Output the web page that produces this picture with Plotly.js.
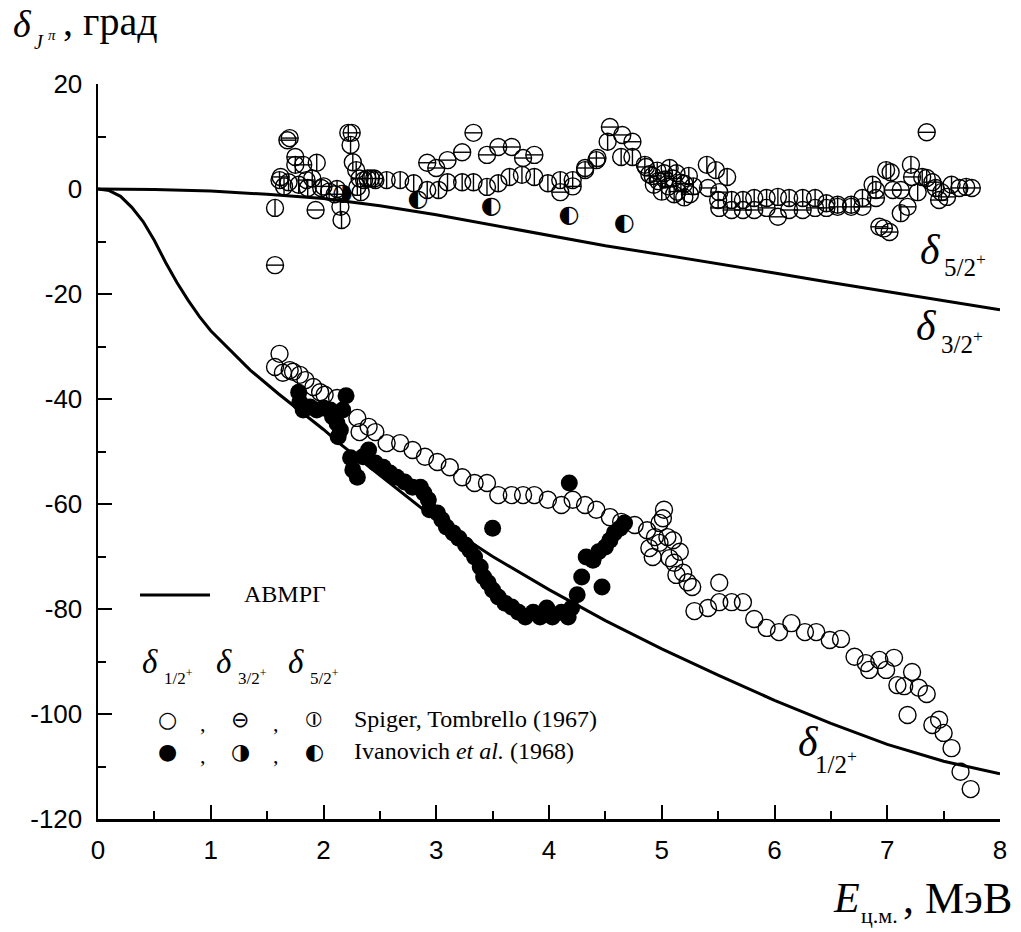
<!DOCTYPE html>
<html>
<head>
<meta charset="utf-8">
<script src="https://cdn.plot.ly/plotly-3.0.1.min.js"></script>
<style>
  html, body { margin: 0; padding: 0; background: #fff; }
  #chart { width: 1021px; height: 932px; }
</style>
</head>
<body>
<div id="chart"></div>
<script>
// Phase shifts of elastic scattering, degrees, versus c.m. energy, MeV.

// Axis ticks
const xTickVals = [0, 1, 2, 3, 4, 5, 6, 7, 8];
const xTickText = ['0', '1', '2', '3', '4', '5', '6', '7', '8'];
const yTickVals = [20, 0, -20, -40, -60, -80, -100, -120];
const yTickText = ['20', '0', '-20', '-40', '-60', '-80', '-100', '-120'];

// Model curves (АВМРГ)
const curveE = [0, 0.1, 0.2, 0.3, 0.4, 0.5, 0.6, 0.7, 0.8, 0.9, 1.0, 1.2, 1.35, 1.6, 1.8, 2.0, 2.15, 2.5, 3.0, 3.5, 4.0, 4.5, 5.0, 5.5, 6.0, 6.5, 7.0, 7.5, 8.0];
const curve12 = [0, -0.3, -1.4, -3.5, -6.2, -9.8, -14.0, -17.8, -21.2, -24.3, -27.0, -31.4, -34.5, -39.0, -42.4, -45.8, -48.6, -54.5, -63.0, -70.0, -76.3, -82.2, -87.6, -92.6, -97.4, -101.8, -105.8, -109.0, -111.4];
const curve32E = [0, 0.5, 1.0, 1.5, 2.0, 2.5, 3.0, 3.5, 4.0, 4.5, 5.0, 5.5, 6.0, 6.5, 7.0, 7.5, 8.0];
const curve32 = [0, -0.1, -0.4, -1.0, -1.8, -3.2, -4.9, -6.9, -8.9, -10.8, -12.5, -14.2, -16.0, -17.8, -19.5, -21.2, -23.0];

// Spiger, Tombrello (1967): delta 1/2+
const st12E = [1.57, 1.61, 1.64, 1.70, 1.73, 1.79, 1.84, 1.91, 1.97, 2.01, 2.12, 2.30, 2.32, 2.40, 2.46, 2.56, 2.68, 2.79, 2.90, 3.01, 3.12, 3.23, 3.34, 3.45, 3.55, 3.67, 3.77, 3.87, 3.99, 4.11, 4.21, 4.32, 4.42, 4.54, 4.64, 4.76, 4.87, 4.89, 4.92, 4.94, 4.98, 4.98, 5.01, 5.02, 5.05, 5.07, 5.10, 5.11, 5.13, 5.16, 5.19, 5.23, 5.27, 5.29, 5.41, 5.51, 5.51, 5.62, 5.72, 5.82, 5.93, 6.04, 6.15, 6.27, 6.37, 6.49, 6.59, 6.71, 6.81, 6.84, 6.93, 6.99, 7.06, 7.09, 7.15, 7.22, 7.28, 7.35, 7.18, 7.40, 7.46, 7.50, 7.57, 7.65, 7.74];
const st12 = [-33.9, -31.4, -35.0, -34.5, -34.8, -35.4, -36.4, -37.7, -38.7, -39.2, -39.8, -43.6, -46.3, -45.3, -46.3, -48.4, -48.4, -49.7, -51.0, -52.0, -53.0, -54.9, -56.0, -56.0, -58.3, -58.3, -58.3, -58.3, -59.2, -60.2, -59.2, -60.2, -61.1, -62.5, -63.4, -64.0, -65.0, -68.4, -70.1, -66.3, -67.4, -63.6, -62.7, -61.1, -66.3, -70.3, -66.9, -71.2, -73.5, -69.1, -73.1, -74.9, -75.8, -80.4, -79.8, -75.0, -78.7, -78.7, -78.7, -81.9, -83.6, -84.4, -82.7, -84.4, -84.4, -85.9, -85.7, -89.1, -90.3, -91.6, -89.7, -91.6, -89.3, -94.5, -94.7, -92.0, -95.0, -96.2, -100.2, -102.1, -101.1, -103.6, -106.5, -111.0, -114.3];

// Spiger, Tombrello (1967): delta 3/2+
const st32E = [1.57, 1.68, 1.70, 1.75, 1.82, 1.62, 1.85, 1.93, 2.00, 2.10, 2.25, 2.32, 2.45, 2.92, 3.00, 3.10, 3.23, 3.33, 3.45, 3.55, 3.67, 3.77, 3.87, 4.10, 4.21, 4.32, 4.43, 4.54, 4.65, 4.74, 4.86, 4.92, 4.97, 5.02, 5.06, 5.10, 5.14, 5.20, 5.25, 5.41, 5.51, 5.51, 5.62, 5.72, 5.82, 5.93, 6.03, 6.13, 6.25, 6.36, 6.46, 6.56, 6.68, 6.78, 6.90, 6.93, 6.97, 7.02, 7.05, 7.12, 7.18, 7.22, 7.35, 7.40, 7.46, 7.53, 7.64, 7.75];
const st32 = [-14.5, 9.3, 9.7, 6.1, 4.6, 2.3, 1.7, -4.0, 0.5, -1.0, 10.7, 2.0, 2.0, 5.0, 4.0, 5.5, 7.0, 10.7, 6.5, 8.0, 8.0, 5.9, 6.5, -0.6, 0.5, 4.0, 5.9, 11.8, 10.3, 9.0, 4.2, 2.5, 1.5, 3.0, 0.5, 2.0, -0.5, 1.0, -1.0, 0.2, -0.6, -3.6, -4.0, -4.0, -4.0, -3.6, -5.3, -4.0, -4.0, -3.6, -3.6, -3.4, -3.4, -3.4, -1.7, -7.2, -7.5, -8.2, -0.2, -0.2, -3.4, 2.3, 10.8, 1.3, -2.1, -1.5, 0.2, 0.2];

// Spiger, Tombrello (1967): delta 5/2+
const st52E = [1.57, 1.61, 1.65, 1.69, 1.75, 1.78, 1.86, 1.90, 1.94, 1.98, 2.05, 2.12, 2.15, 2.16, 2.22, 2.24, 2.26, 2.29, 2.30, 2.33, 2.36, 2.39, 2.42, 2.46, 2.56, 2.68, 2.80, 2.92, 3.02, 3.10, 3.23, 3.33, 3.45, 3.55, 3.65, 3.76, 3.87, 3.99, 4.10, 4.21, 4.32, 4.42, 4.52, 4.64, 4.74, 4.85, 4.89, 4.93, 4.96, 5.00, 5.03, 5.07, 5.11, 5.13, 5.17, 5.20, 5.24, 5.28, 5.40, 5.48, 5.58, 5.50, 5.62, 5.72, 5.82, 5.93, 6.03, 6.13, 6.25, 6.36, 6.46, 6.56, 6.68, 6.78, 6.90, 6.87, 6.99, 7.03, 7.12, 7.21, 7.27, 7.31, 7.35, 7.43, 7.48, 7.57, 7.70];
const st52 = [-3.6, 1.7, 0.5, 1.3, 4.6, 0.8, 0.2, 2.0, 5.0, 0.2, -0.5, 0.0, -3.4, -5.9, 10.7, 8.4, 5.1, 3.6, 0.4, -0.6, 1.7, 2.0, 2.0, 1.7, 1.7, 1.7, 1.1, -0.2, -0.2, 1.3, 1.3, 1.3, 0.4, 1.1, 2.3, 2.7, 2.3, 1.1, 1.7, 1.7, 3.6, 5.5, 9.0, 6.1, 6.1, 4.6, 2.8, 0.8, 3.5, -0.5, 1.8, 4.0, -1.0, 3.0, 1.2, -1.6, 2.5, 0.5, 4.6, 3.6, 2.3, -2.1, -2.1, -2.1, -1.7, -1.7, -1.5, -1.7, -1.7, -1.7, -2.7, -3.0, -3.0, -1.7, -0.2, 0.8, 3.6, 3.2, -4.6, 4.6, -0.6, 2.3, 2.1, 0.2, -0.6, 0.8, 0.4];

// Ivanovich et al. (1968): delta 1/2+
const iv12E = [1.78, 1.79, 1.82, 1.88, 1.94, 2.00, 2.06, 2.08, 2.12, 2.15, 2.13, 2.20, 2.17, 2.24, 2.26, 2.30, 2.35, 2.40, 2.46, 2.53, 2.59, 2.65, 2.72, 2.79, 2.86, 2.89, 2.93, 2.94, 3.01, 3.05, 3.09, 3.15, 3.20, 3.26, 3.30, 3.34, 3.39, 3.42, 3.46, 3.50, 3.55, 3.61, 3.67, 3.73, 3.79, 3.86, 3.92, 3.98, 4.03, 4.11, 4.17, 4.20, 3.50, 4.18, 4.25, 4.29, 4.33, 4.39, 4.47, 4.44, 4.50, 4.54, 4.58, 4.63, 4.67];
const iv12 = [-38.7, -40.6, -42.1, -41.5, -42.1, -41.7, -42.1, -43.4, -44.6, -45.9, -47.2, -39.4, -42.1, -51.2, -53.5, -54.9, -51.0, -49.7, -52.2, -53.0, -54.1, -54.9, -55.8, -56.8, -56.8, -57.9, -59.2, -61.1, -61.7, -63.0, -64.4, -65.5, -66.5, -67.8, -68.8, -70.1, -72.0, -73.9, -75.0, -76.4, -77.7, -78.9, -79.6, -80.6, -81.5, -80.6, -81.5, -79.8, -81.5, -80.6, -81.5, -79.8, -64.6, -56.0, -77.3, -73.9, -70.1, -70.7, -75.8, -69.1, -68.2, -66.9, -65.5, -64.6, -63.6];

// Ivanovich et al. (1968): delta 3/2+ and delta 5/2+
const iv32E = [2.17];
const iv32 = [-1.0];
const iv52E = [2.84, 3.49, 4.18, 4.67];
const iv52 = [-2.0, -3.4, -5.2, -6.6];

const serif = 'Liberation Serif, Times New Roman, serif';
const sans = 'Liberation Sans, Arial, sans-serif';
const glyphFont = 'DejaVu Sans';
const ink = '#000';

function openMarker(sym, size) {
  return { symbol: sym, size: size, color: ink, line: { color: ink, width: 1.4 } };
}

const traces = [
  { x: curveE, y: curve12, mode: 'lines', line: { color: ink, width: 3 } },
  { x: curve32E, y: curve32, mode: 'lines', line: { color: ink, width: 3 } },
  { x: st12E, y: st12, mode: 'markers', marker: openMarker('circle-open', 17) },
  { x: st32E, y: st32, mode: 'markers', marker: openMarker('circle-open', 17) },
  { x: st32E, y: st32, mode: 'markers', marker: openMarker('line-ew-open', 12) },
  { x: st52E, y: st52, mode: 'markers', marker: openMarker('circle-open', 17) },
  { x: st52E, y: st52, mode: 'markers', marker: openMarker('line-ns-open', 12) },
  { x: iv12E, y: iv12, mode: 'markers', marker: { symbol: 'circle', size: 17, color: ink } },
  { x: iv32E, y: iv32, mode: 'text', text: iv32E.map(() => '◑'), textposition: 'middle center',
    textfont: { family: glyphFont, size: 24, color: ink } },
  { x: iv52E, y: iv52, mode: 'text', text: iv52E.map(() => '◐'), textposition: 'middle center',
    textfont: { family: glyphFont, size: 24, color: ink } }
];

// plot frame in pixels
const L = 98, R = 21, T = 84, B = 113, W = 1021, H = 932;
const PX = px => (px - L) / (W - L - R);
const PY = py => (H - B - py) / (H - T - B);

function note(text, px, py, size, extra) {
  return Object.assign({
    text: text, xref: 'paper', yref: 'paper', x: PX(px), y: PY(py),
    xanchor: 'center', yanchor: 'middle', showarrow: false,
    font: { family: serif, size: size, color: ink }
  }, extra || {});
}
function glyph(text, px, py) {
  return note(text, px, py, 22, { font: { family: glyphFont, size: 22, color: ink } });
}

const annotations = [
  // y-axis title
  note('<i>δ</i>', 22, 24, 38),
  note('<i>J</i>', 39, 42, 20),
  note('<i>π</i>', 52, 35, 15),
  note(', град', 110, 22, 40),
  // x-axis title
  note('<i>E</i>', 846, 898, 42),
  note('ц.м.', 879, 915, 22),
  note(', МэВ', 957, 898, 44),
  // curve labels
  note('<i>δ</i>', 930, 250, 42),
  note('5/2<sup>+</sup>', 965, 265, 25),
  note('<i>δ</i>', 926, 326, 42),
  note('3/2<sup>+</sup>', 962, 342, 25),
  note('<i>δ</i>', 808, 742, 42),
  note('1/2<sup>+</sup>', 836, 762, 25),
  // legend
  note('АВМРГ', 285, 594, 24),
  note('<i>δ</i>', 150, 662, 33),
  note('1/2<sup>+</sup>', 178, 677, 17),
  note('<i>δ</i>', 224, 662, 33),
  note('3/2<sup>+</sup>', 252, 677, 17),
  note('<i>δ</i>', 296, 662, 33),
  note('5/2<sup>+</sup>', 324, 677, 17),
  glyph('○', 167, 719),
  note(',', 203, 723, 22),
  glyph('⊖', 240, 719),
  note(',', 276, 723, 22),
  glyph('⦶', 314, 719),
  note('Spiger, Tombrello (1967)', 352, 719, 24, { xanchor: 'left' }),
  glyph('●', 167, 751),
  note(',', 203, 755, 22),
  glyph('◑', 240, 751),
  note(',', 276, 755, 22),
  glyph('◐', 314, 751),
  note('Ivanovich <i>et al.</i> (1968)', 352, 751, 24, { xanchor: 'left' })
];

const shapes = [
  { type: 'line', xref: 'paper', yref: 'paper', x0: PX(140), x1: PX(210), y0: PY(595), y1: PY(595),
    line: { color: ink, width: 3 } }
];

const axisCommon = {
  showline: true, linecolor: ink, linewidth: 2.5, mirror: false,
  showgrid: false, zeroline: false,
  ticks: 'inside', ticklen: 14, tickwidth: 2, tickcolor: ink,
  tickfont: { family: sans, size: 26, color: ink }
};

const layout = {
  width: W, height: H,
  margin: { l: L, r: R, t: T, b: B, pad: 0 },
  paper_bgcolor: '#fff', plot_bgcolor: '#fff',
  showlegend: false,
  xaxis: Object.assign({}, axisCommon, {
    range: [0, 8], tickmode: 'array', tickvals: xTickVals, ticktext: xTickText, ticklabelstandoff: 6,
    minor: { tickmode: 'linear', tick0: 0, dtick: 0.5, ticks: 'inside', ticklen: 8, tickwidth: 2, tickcolor: ink, showgrid: false }
  }),
  yaxis: Object.assign({}, axisCommon, {
    range: [-120, 20], tickmode: 'array', tickvals: yTickVals, ticktext: yTickText, ticklabelstandoff: 8,
    minor: { tickmode: 'linear', tick0: 0, dtick: 10, ticks: 'inside', ticklen: 8, tickwidth: 2, tickcolor: ink, showgrid: false }
  }),
  annotations: annotations,
  shapes: shapes
};

Plotly.newPlot('chart', traces, layout, { staticPlot: true, displayModeBar: false });
</script>
</body>
</html>
